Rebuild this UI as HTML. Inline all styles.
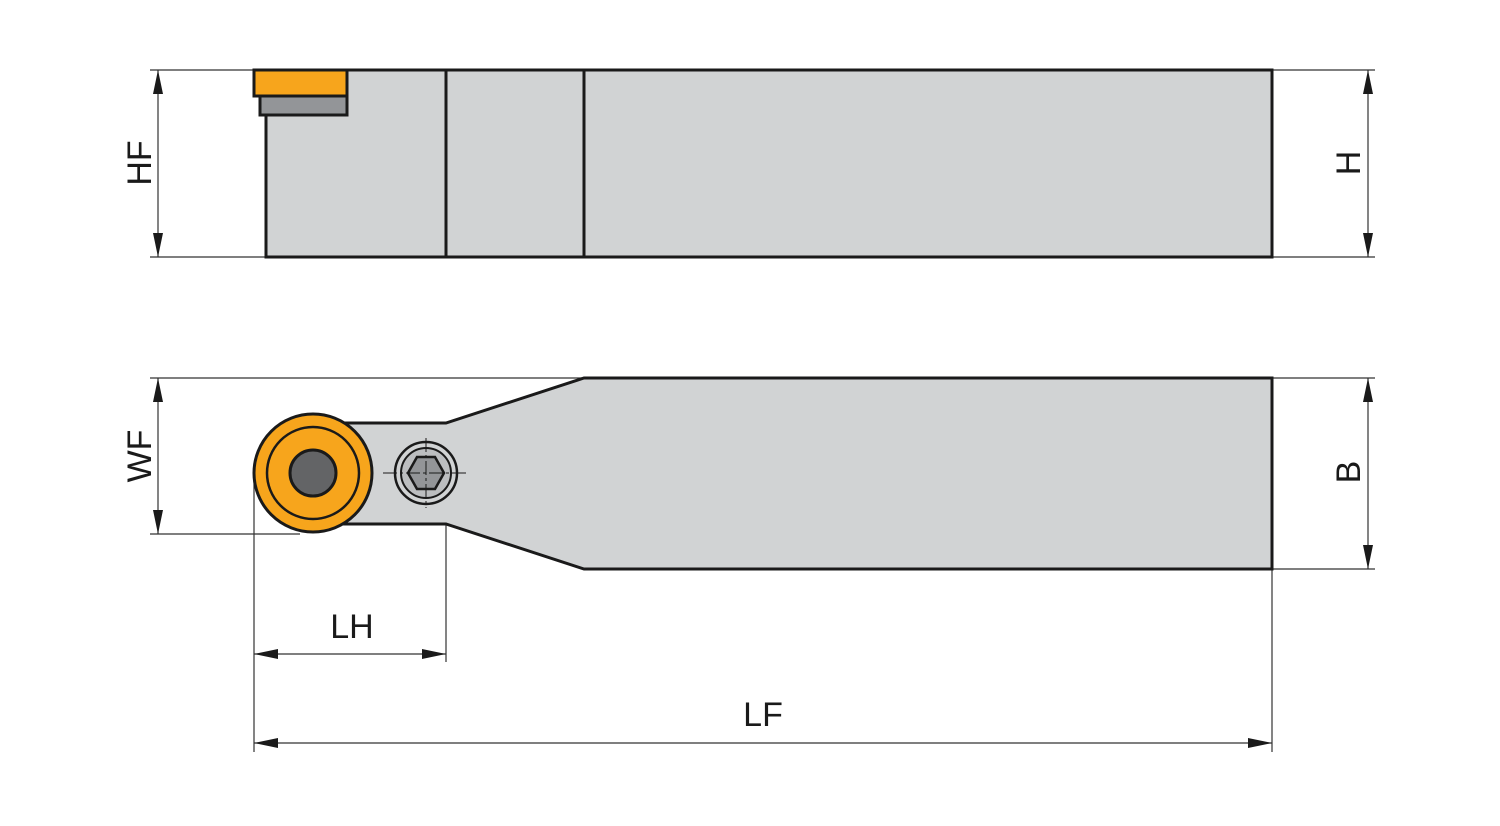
<!DOCTYPE html>
<html><head><style>html,body{margin:0;padding:0;background:#fff}</style></head>
<body>
<svg width="1500" height="821" viewBox="0 0 1500 821" xmlns="http://www.w3.org/2000/svg" font-family="Liberation Sans, sans-serif">
<defs>
<marker id="a" viewBox="0 0 24 10" refX="24" refY="5" markerWidth="24" markerHeight="10" markerUnits="userSpaceOnUse" orient="auto-start-reverse"><path d="M0,0 L24,5 L0,10 z" fill="#1a1a1a"/></marker>
</defs>
<g stroke="#333" stroke-width="1.2" fill="none">
<!-- top extension lines -->
<line x1="150" y1="70" x2="253" y2="70"/>
<line x1="150" y1="257" x2="266" y2="257"/>
<line x1="1272" y1="70" x2="1375" y2="70"/>
<line x1="1272" y1="257" x2="1375" y2="257"/>
<!-- bottom -->
<line x1="150" y1="378" x2="584" y2="378"/>
<line x1="150" y1="534" x2="300" y2="534"/>
<line x1="1272" y1="378" x2="1375" y2="378"/>
<line x1="1272" y1="569" x2="1375" y2="569"/>
<line x1="254" y1="480" x2="254" y2="752"/>
<line x1="446" y1="524" x2="446" y2="662"/>
<line x1="1272" y1="569" x2="1272" y2="752"/>
<!-- dims -->
<line x1="158" y1="70" x2="158" y2="257" marker-start="url(#a)" marker-end="url(#a)"/>
<line x1="1368" y1="70" x2="1368" y2="257" marker-start="url(#a)" marker-end="url(#a)"/>
<line x1="158" y1="378" x2="158" y2="534" marker-start="url(#a)" marker-end="url(#a)"/>
<line x1="1368" y1="378" x2="1368" y2="569" marker-start="url(#a)" marker-end="url(#a)"/>
<line x1="254" y1="654" x2="446" y2="654" marker-start="url(#a)" marker-end="url(#a)"/>
<line x1="254" y1="743" x2="1272" y2="743" marker-start="url(#a)" marker-end="url(#a)"/>
</g>
<!-- top view -->
<g stroke="#1a1a1a" stroke-width="3">
<rect x="266" y="70" width="1006" height="187" fill="#d1d3d4"/>
<line x1="446" y1="70" x2="446" y2="257"/>
<line x1="584" y1="70" x2="584" y2="257"/>
<rect x="260" y="96" width="87" height="19" fill="#939598"/>
<rect x="254" y="70" width="93" height="26" fill="#f7a51c"/>
</g>
<!-- bottom view -->
<g stroke="#1a1a1a" stroke-width="3">
<path d="M330,423 L446,423 L584,378 L1272,378 L1272,569 L584,569 L446,524 L330,524 Z" fill="#d1d3d4"/>
<circle cx="313" cy="473" r="59" fill="#f7a51c"/>
<circle cx="313" cy="473" r="46" fill="none" stroke-width="2.5"/>
<circle cx="313" cy="473" r="23" fill="#636466"/>
<circle cx="426" cy="473" r="31" fill="#d1d3d4" stroke-width="2.5"/>
<circle cx="426" cy="473" r="25" fill="#bcbec0" stroke-width="2"/>
<path d="M408,473 L417,457 L435,457 L444,473 L435,489 L417,489 Z" fill="#939598" stroke-width="2.5"/>
</g>
<g stroke="#1a1a1a" stroke-width="1" stroke-dasharray="14,3,3,3">
<line x1="383" y1="473" x2="466" y2="473"/>
<line x1="426" y1="438" x2="426" y2="508"/>
</g>
<g font-size="34" fill="#1a1a1a" text-anchor="middle">
<text transform="translate(151,163) rotate(-90)">HF</text>
<text transform="translate(1360,163) rotate(-90)">H</text>
<text transform="translate(151,456) rotate(-90)">WF</text>
<text transform="translate(1360,472) rotate(-90)">B</text>
<text x="352" y="638">LH</text>
<text x="763" y="726">LF</text>
</g>
</svg>
</body></html>
